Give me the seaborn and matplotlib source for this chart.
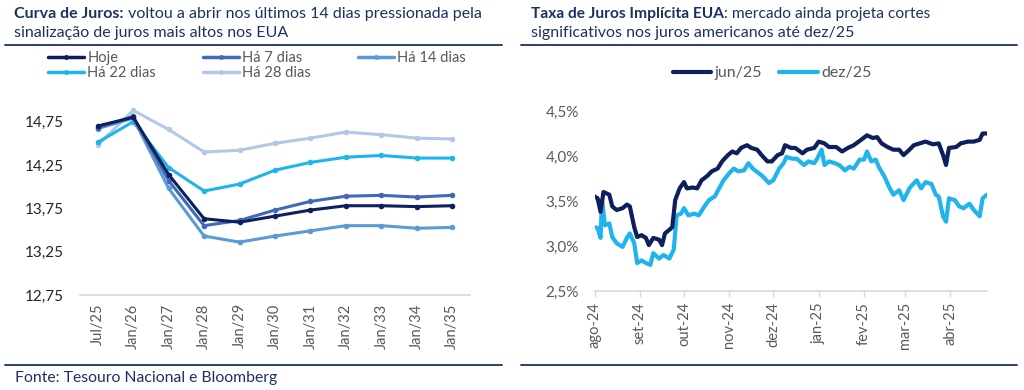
import matplotlib
matplotlib.use("Agg")
import matplotlib.pyplot as plt
import matplotlib.dates as mdates
from matplotlib.lines import Line2D
from matplotlib.ticker import FixedLocator, FuncFormatter
import pandas as pd
import seaborn as sns

# ─────────────────────────────────────────────
# Data — curva de juros (DI futuro)
# ─────────────────────────────────────────────
VENCIMENTOS = ["Jul/25", "Jan/26", "Jan/27", "Jan/28", "Jan/29", "Jan/30",
               "Jan/31", "Jan/32", "Jan/33", "Jan/34", "Jan/35"]
HOJE     = [14.70, 14.80, 14.14, 13.63, 13.59, 13.66, 13.73, 13.78, 13.78, 13.77, 13.78]
HA_7     = [14.68, 14.81, 14.07, 13.55, 13.61, 13.73, 13.83, 13.89, 13.90, 13.88, 13.90]
HA_14    = [14.67, 14.79, 13.98, 13.43, 13.36, 13.43, 13.49, 13.55, 13.55, 13.52, 13.53]
HA_22    = [14.51, 14.75, 14.22, 13.95, 14.03, 14.19, 14.28, 14.34, 14.36, 14.33, 14.33]
HA_28    = [14.48, 14.88, 14.66, 14.40, 14.42, 14.50, 14.56, 14.63, 14.60, 14.56, 14.55]
CURVA_SERIES = ["Hoje", "Há 7 dias", "Há 14 dias", "Há 22 dias", "Há 28 dias"]
CURVA_TICKS  = [12.75, 13.25, 13.75, 14.25, 14.75]

# ─────────────────────────────────────────────
# Data — taxa implícita EUA
# ─────────────────────────────────────────────
JUN_DATES = ["2024-08-01", "2024-08-03", "2024-08-05", "2024-08-07", "2024-08-11", "2024-08-13",
             "2024-08-16", "2024-08-20", "2024-08-23", "2024-08-25", "2024-08-28", "2024-08-30",
             "2024-09-02", "2024-09-05", "2024-09-07", "2024-09-10", "2024-09-14", "2024-09-16",
             "2024-09-18", "2024-09-21", "2024-09-23", "2024-09-25", "2024-09-28", "2024-10-01",
             "2024-10-03", "2024-10-07", "2024-10-10", "2024-10-13", "2024-10-17", "2024-10-20",
             "2024-10-24", "2024-10-27", "2024-10-31", "2024-11-03", "2024-11-06", "2024-11-09",
             "2024-11-13", "2024-11-16", "2024-11-20", "2024-11-23", "2024-11-27", "2024-11-30",
             "2024-12-04", "2024-12-07", "2024-12-09", "2024-12-13", "2024-12-16", "2024-12-21",
             "2024-12-24", "2024-12-29", "2025-01-01", "2025-01-05", "2025-01-08", "2025-01-13",
             "2025-01-17", "2025-01-21", "2025-01-25", "2025-01-30", "2025-02-03", "2025-02-07",
             "2025-02-10", "2025-02-13", "2025-02-17", "2025-02-21", "2025-02-25", "2025-02-28",
             "2025-03-04", "2025-03-07", "2025-03-11", "2025-03-15", "2025-03-20", "2025-03-24",
             "2025-03-27", "2025-03-29", "2025-03-31", "2025-04-05", "2025-04-08", "2025-04-13",
             "2025-04-17", "2025-04-21", "2025-04-23", "2025-04-26"]
JUN_25 = [3.55, 3.53, 3.38, 3.60, 3.57, 3.44, 3.40, 3.42, 3.46, 3.44, 3.21, 3.10,
          3.12, 3.09, 3.01, 3.09, 3.07, 3.01, 3.14, 3.18, 3.21, 3.51, 3.64, 3.71,
          3.64, 3.65, 3.64, 3.73, 3.78, 3.83, 3.86, 3.94, 4.01, 4.05, 4.03, 4.09,
          4.12, 4.09, 4.07, 4.01, 3.94, 3.94, 4.01, 4.03, 4.12, 4.09, 4.09, 4.03,
          4.07, 4.09, 4.16, 4.14, 4.10, 4.10, 4.05, 4.09, 4.12, 4.18, 4.23, 4.20,
          4.21, 4.14, 4.10, 4.07, 4.07, 4.01, 4.07, 4.12, 4.14, 4.16, 4.13, 4.14,
          4.01, 3.90, 4.09, 4.10, 4.14, 4.16, 4.16, 4.18, 4.25, 4.25]

DEZ_DATES = ["2024-08-01", "2024-08-03", "2024-08-05", "2024-08-06", "2024-08-08", "2024-08-11",
             "2024-08-13", "2024-08-16", "2024-08-20", "2024-08-23", "2024-08-25", "2024-08-28",
             "2024-08-30", "2024-09-02", "2024-09-05", "2024-09-08", "2024-09-10", "2024-09-14",
             "2024-09-17", "2024-09-21", "2024-09-24", "2024-09-26", "2024-09-29", "2024-10-01",
             "2024-10-04", "2024-10-08", "2024-10-11", "2024-10-15", "2024-10-18", "2024-10-22",
             "2024-10-25", "2024-10-28", "2024-11-01", "2024-11-04", "2024-11-07", "2024-11-11",
             "2024-11-14", "2024-11-17", "2024-11-21", "2024-11-24", "2024-11-28", "2024-12-01",
             "2024-12-05", "2024-12-08", "2024-12-10", "2024-12-14", "2024-12-17", "2024-12-22",
             "2024-12-25", "2024-12-29", "2024-12-31", "2025-01-03", "2025-01-05", "2025-01-08",
             "2025-01-12", "2025-01-15", "2025-01-19", "2025-01-22", "2025-01-25", "2025-01-29",
             "2025-02-01", "2025-02-03", "2025-02-06", "2025-02-09", "2025-02-11", "2025-02-15",
             "2025-02-18", "2025-02-21", "2025-02-25", "2025-02-28", "2025-03-04", "2025-03-06",
             "2025-03-09", "2025-03-12", "2025-03-15", "2025-03-19", "2025-03-22", "2025-03-24",
             "2025-03-27", "2025-03-29", "2025-03-31", "2025-04-04", "2025-04-07", "2025-04-10",
             "2025-04-14", "2025-04-17", "2025-04-21", "2025-04-23", "2025-04-26"]
DEZ_25 = [3.21, 3.20, 3.09, 3.51, 3.23, 3.25, 3.10, 3.03, 2.99, 3.09, 3.14, 3.03,
          2.81, 2.84, 2.81, 2.79, 2.92, 2.86, 2.90, 2.86, 2.96, 3.34, 3.36, 3.42,
          3.34, 3.36, 3.34, 3.44, 3.51, 3.55, 3.64, 3.73, 3.81, 3.86, 3.83, 3.84,
          3.92, 3.86, 3.81, 3.77, 3.70, 3.73, 3.86, 3.92, 3.99, 3.97, 3.97, 3.90,
          3.94, 3.92, 3.97, 4.07, 3.90, 3.94, 3.92, 3.90, 3.84, 3.88, 3.86, 3.96,
          3.96, 4.05, 3.94, 3.96, 3.88, 3.77, 3.66, 3.57, 3.62, 3.51, 3.64, 3.68,
          3.73, 3.64, 3.71, 3.69, 3.57, 3.55, 3.33, 3.27, 3.53, 3.51, 3.44, 3.42,
          3.47, 3.40, 3.33, 3.53, 3.57]

MESES       = ["2024-08-01", "2024-09-01", "2024-10-01", "2024-11-01", "2024-12-01",
               "2025-01-01", "2025-02-01", "2025-03-01", "2025-04-01"]
MESES_LABEL = ["ago-24", "set-24", "out-24", "nov-24", "dez-24",
               "jan-25", "fev-25", "mar-25", "abr-25"]
EUA_TICKS   = [2.5, 3.0, 3.5, 4.0, 4.5]

# ─────────────────────────────────────────────
# Style
# ─────────────────────────────────────────────
NAVY = "#1c3160"
GREY = "#595959"
CURVA_COLORS = {"Hoje": "#0d1f5c", "Há 7 dias": "#4169b8", "Há 14 dias": "#5b9bd5",
                "Há 22 dias": "#1fb4ec", "Há 28 dias": "#b4c7e7"}
EUA_COLORS = {"jun/25": "#0d1f5c", "dez/25": "#1fb4ec"}

sns.set_theme(style="white")
plt.rcParams["font.family"] = ["Lato", "DejaVu Sans"]

W, H = 1024, 390
fig = plt.figure(figsize=(W / 100, H / 100), dpi=100)


def fx(x):
    return x / W


def fy(y):
    return 1 - y / H


def title(x, y, bold, rest, size=11.5):
    t1 = fig.text(fx(x), fy(y), bold, fontsize=size, fontweight="bold",
                  color=NAVY, va="center", ha="left")
    r = fig.canvas.get_renderer()
    bb = t1.get_window_extent(renderer=r)
    fig.text(bb.x1 / W, fy(y), rest, fontsize=size, color=NAVY, va="center", ha="left")


# ── titles and rules ─────────────────────────
title(14, 14, "Curva de Juros:", " voltou a abrir nos últimos 14 dias pressionada pela")
fig.text(fx(14), fy(33), "sinalização de juros mais altos nos EUA", fontsize=11.5,
         color=NAVY, va="center")
title(531, 14, "Taxa de Juros Implícita EUA", ": mercado ainda projeta cortes", size=11.2)
fig.text(fx(531), fy(33), "significativos nos juros americanos até dez/25", fontsize=11.5,
         color=NAVY, va="center")

for x0, x1 in [(5, 502), (521, 1017)]:
    fig.add_artist(Line2D([fx(x0), fx(x1)], [fy(45), fy(45)], color=NAVY, lw=1.3))
    fig.add_artist(Line2D([fx(x0), fx(x1)], [fy(365), fy(365)], color=NAVY, lw=1.3))

fig.text(fx(15), fy(378), "Fonte: Tesouro Nacional e Bloomberg", fontsize=11.3,
         color=NAVY, va="center")

# ─────────────────────────────────────────────
# Left: curva de juros
# ─────────────────────────────────────────────
ax1 = fig.add_axes([fx(80), fy(295), fx(470) - fx(80), fy(100) - fy(295)])
curva = pd.DataFrame({
    "venc": VENCIMENTOS * 5,
    "taxa": HOJE + HA_7 + HA_14 + HA_22 + HA_28,
    "serie": sum([[s] * len(VENCIMENTOS) for s in CURVA_SERIES], []),
})
draw_order = ["Há 28 dias", "Há 22 dias", "Há 14 dias", "Há 7 dias", "Hoje"]
for s in draw_order:
    sns.lineplot(data=curva[curva.serie == s], x="venc", y="taxa", color=CURVA_COLORS[s],
                 lw=2.2, marker="o", markersize=4, markeredgewidth=0, sort=False,
                 ax=ax1, legend=False)
ax1.set_xlim(-0.5, len(VENCIMENTOS) - 0.5)
ax1.set_ylim(12.75, 15.0)
ax1.yaxis.set_major_locator(FixedLocator(CURVA_TICKS))
ax1.yaxis.set_major_formatter(FuncFormatter(lambda v, p: f"{v:.2f}".replace(".", ",")))
ax1.set_xlabel(""); ax1.set_ylabel("")
ax1.tick_params(axis="y", length=0, labelsize=11, labelcolor="#262626", pad=12)
ax1.tick_params(axis="x", length=0, labelsize=10.5, labelcolor=GREY, rotation=90, pad=6)
for side in ["top", "right", "left"]:
    ax1.spines[side].set_visible(False)
ax1.spines["bottom"].set_color("#d9d9d9")
ax1.spines["bottom"].set_linewidth(1.2)

leg_order = ["Hoje", "Há 22 dias", "Há 7 dias", "Há 28 dias", "Há 14 dias"]
handles = [Line2D([], [], color=CURVA_COLORS[s], lw=2.5, marker="o", markersize=3.5,
                  markeredgewidth=0) for s in leg_order]
fig.legend(handles, leg_order, loc="upper left", bbox_to_anchor=(fx(48), fy(51)),
           ncol=3, frameon=False, fontsize=10.5, labelcolor=GREY, handlelength=2.5,
           handletextpad=0.2, columnspacing=3.2, labelspacing=0.1, borderpad=0,
           borderaxespad=0)

# ─────────────────────────────────────────────
# Right: taxa implícita EUA
# ─────────────────────────────────────────────
ax2 = fig.add_axes([fx(594.7), fy(291), fx(987) - fx(594.7), fy(111) - fy(291)])
eua = pd.DataFrame({
    "data": pd.to_datetime(JUN_DATES + DEZ_DATES),
    "taxa": JUN_25 + DEZ_25,
    "serie": ["jun/25"] * len(JUN_DATES) + ["dez/25"] * len(DEZ_DATES),
})
sns.lineplot(data=eua, x="data", y="taxa", hue="serie", hue_order=["dez/25", "jun/25"],
             palette=EUA_COLORS, lw=3, ax=ax2, legend=False)
ax2.set_xlim(pd.Timestamp("2024-08-01"), pd.Timestamp("2025-04-26"))
ax2.set_ylim(2.5, 4.5)
ax2.xaxis.set_major_locator(FixedLocator(mdates.date2num(pd.to_datetime(MESES))))
ax2.set_xticklabels(MESES_LABEL)
ax2.yaxis.set_major_locator(FixedLocator(EUA_TICKS))
ax2.yaxis.set_major_formatter(FuncFormatter(lambda v, p: f"{v:.1f}%".replace(".", ",")))
ax2.set_xlabel(""); ax2.set_ylabel("")
ax2.tick_params(axis="y", length=0, labelsize=11, labelcolor=GREY, pad=11.5)
ax2.tick_params(axis="x", length=4, width=1, color="#d9d9d9", direction="out",
                labelsize=10.5, labelcolor=GREY, rotation=90, pad=4, bottom=True)
for side in ["top", "right", "left"]:
    ax2.spines[side].set_visible(False)
ax2.spines["bottom"].set_color("#d9d9d9")
ax2.spines["bottom"].set_linewidth(1.2)

eua_labels = ["jun/25", "dez/25"]
eua_handles = [Line2D([], [], color=EUA_COLORS[s], lw=3) for s in eua_labels]
fig.legend(eua_handles, eua_labels, loc="center", bbox_to_anchor=(fx(772), fy(73)),
           ncol=2, frameon=False, fontsize=11.5, labelcolor=GREY, handlelength=2.4,
           handletextpad=0.2, columnspacing=1.1, borderpad=0, borderaxespad=0)

fig.savefig("out.png", dpi=100)
